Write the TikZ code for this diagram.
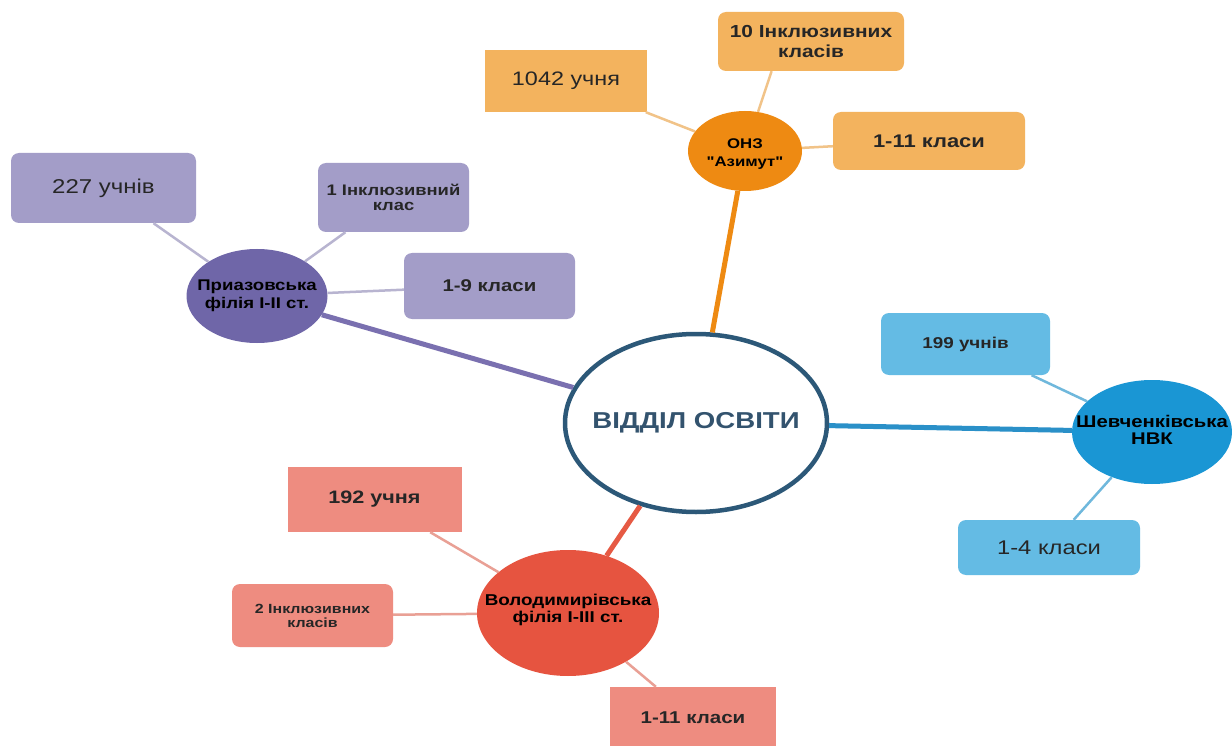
\documentclass[tikz,border=0pt]{standalone}
\usepackage{fontspec}
\setmainfont[FakeStretch=1.2]{Liberation Sans}
\newfontfamily\qf[FakeStretch=1.2]{Liberation Sans}
\usetikzlibrary{shapes.geometric}
\definecolor{cmain}{HTML}{2C5878}
\definecolor{ctext}{HTML}{33536E}
\definecolor{orE}{HTML}{EE8A12}
\definecolor{orB}{HTML}{F3B35E}
\definecolor{orL}{HTML}{F1C388}
\definecolor{puE}{HTML}{6F66A8}
\definecolor{puB}{HTML}{A39DC8}
\definecolor{puL}{HTML}{B8B4D0}
\definecolor{puT}{HTML}{7A70B0}
\definecolor{blE}{HTML}{1A96D4}
\definecolor{blB}{HTML}{64BBE4}
\definecolor{blL}{HTML}{6FB8DC}
\definecolor{blT}{HTML}{2A90C8}
\definecolor{reE}{HTML}{E65440}
\definecolor{reB}{HTML}{EE8C80}
\definecolor{reL}{HTML}{E9A095}
\definecolor{reT}{HTML}{E65A44}
\tikzset{
  hub/.style={ellipse, inner sep=0pt},
  hubtext/.style={align=center, text=black, inner sep=0pt},
  boxr/.style={rectangle, rounded corners=8pt, inner sep=0pt, align=center, text=black!85},
  boxs/.style={rectangle, inner sep=0pt, align=center, text=black!85},
  thick line/.style={line width=5pt},
  thin line/.style={line width=2.5pt},
}
\begin{document}
\begin{tikzpicture}[x=1pt,y=-1pt]
\useasboundingbox[fill=white] (0,0) rectangle (1232,746);
% central
\node[hub, draw=cmain, line width=4.5pt, fill=white, minimum width=262pt, minimum height=178pt,
  label={[hubtext, text=ctext, font=\fontsize{23}{25}\selectfont\bfseries]center:ВІДДІЛ ОСВІТИ}] (main) at (696,423) {};
% hubs
\node[hub, fill=orE, minimum width=114pt, minimum height=80pt,
  label={[hubtext, yshift=-3pt, font=\qf\fontsize{14}{18}\selectfont\bfseries]center:ОНЗ\\"Азимут"}] (onz) at (745,151) {};
\node[hub, fill=puE, minimum width=141pt, minimum height=94pt,
  label={[hubtext, font=\fontsize{15.5}{18}\selectfont\bfseries]center:Приазовська\\філія І-ІІ ст.}] (pri) at (257,296) {};
\node[hub, fill=blE, minimum width=160pt, minimum height=104pt,
  label={[hubtext, yshift=2pt, font=\fontsize{16.9}{16.5}\selectfont\bfseries]center:Шевченківська\\НВК}] (shev) at (1152,432) {};
\node[hub, fill=reE, minimum width=182pt, minimum height=126pt,
  label={[hubtext, yshift=3pt, font=\fontsize{15.7}{16.5}\selectfont\bfseries]center:Володимирівська\\філія І-ІІІ ст.}] (vol) at (568,613) {};
% orange boxes
\node[boxs, fill=orB, minimum width=162pt, minimum height=62pt, font=\fontsize{19.5}{21}\selectfont] (o1) at (566,81) {1042 учня};
\node[boxr, fill=orB, minimum width=186pt, minimum height=59pt, font=\fontsize{17.4}{20}\selectfont\bfseries] (o2) at (811,41.5) {10 Інклюзивних\\класів};
\node[boxr, fill=orB, minimum width=192pt, minimum height=58pt, font=\fontsize{18.3}{20}\selectfont\bfseries] (o3) at (929,141) {1-11 класи};
% purple boxes
\node[boxr, fill=puB, minimum width=185pt, minimum height=70pt, font=\fontsize{20}{22}\selectfont] (p1) at (103.5,188) {227 учнів};
\node[boxr, fill=puB, minimum width=151pt, minimum height=69pt, font=\fontsize{15.3}{15}\selectfont\bfseries] (p2) at (393.5,197.5) {1 Інклюзивний\\клас};
\node[boxr, fill=puB, minimum width=171pt, minimum height=66pt, font=\fontsize{17}{19}\selectfont\bfseries] (p3) at (489.5,286) {1-9 класи};
% blue boxes
\node[boxr, fill=blB, minimum width=169pt, minimum height=62pt, font=\fontsize{15.7}{17}\selectfont\bfseries] (b1) at (965.5,344) {199 учнів};
\node[boxr, fill=blB, minimum width=182pt, minimum height=55pt, font=\fontsize{19.8}{21}\selectfont] (b2) at (1049,547.5) {1-4 класи};
% red boxes
\node[boxs, fill=reB, minimum width=174pt, minimum height=65pt, font=\fontsize{18}{20}\selectfont\bfseries] (r1) at (374.5,499.5) {192 учня};
\node[boxr, fill=reB, minimum width=161pt, minimum height=63pt, font=\fontsize{13.3}{14}\selectfont\bfseries] (r2) at (312.5,615.5) {2 Інклюзивних\\класів};
\node[boxs, fill=reB, minimum width=166pt, minimum height=62pt, font=\fontsize{17.1}{19}\selectfont\bfseries] (r3) at (693,718) {1-11 класи};
% thick connectors
\draw[thick line, orE] (onz) -- (main);
\draw[thick line, puT] (pri) -- (main);
\draw[thick line, blT] (shev) -- (main);
\draw[thick line, reT] (vol) -- (main);
% thin connectors
\draw[thin line, orL] (o1) -- (onz);
\draw[thin line, orL] (o2.217) -- (onz);
\draw[thin line, orL] (o3) -- (onz);
\draw[thin line, puL] (p1) -- (pri);
\draw[thin line, puL] (p2) -- (pri);
\draw[thin line, puL] (p3) -- (pri);
\draw[thin line, blL] (b1) -- (shev);
\draw[thin line, blL] (b2) -- (shev);
\draw[thin line, reL] (r1) -- (vol);
\draw[thin line, reL] (r2) -- (vol);
\draw[thin line, reL] (r3) -- (vol);
\end{tikzpicture}
\end{document}
